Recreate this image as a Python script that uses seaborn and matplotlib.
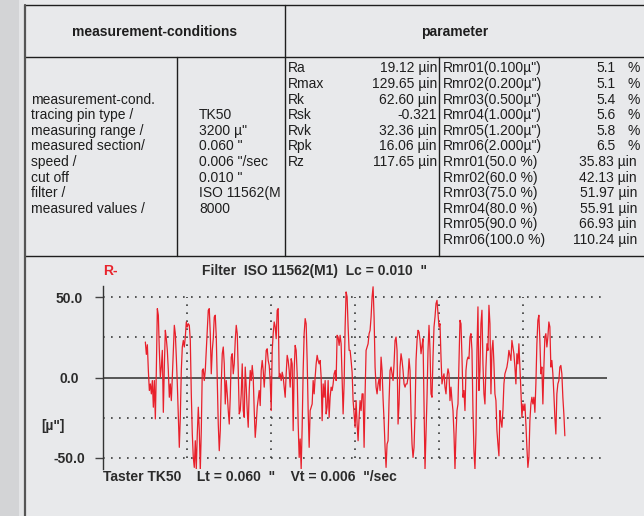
import numpy as np
import pandas as pd
import seaborn as sns
import matplotlib.pyplot as plt

sns.set_style("white")
plt.rcParams['font.family'] = ['Liberation Sans', 'DejaVu Sans']

# ---- table contents ----
header_left = "measurement-conditions"
header_right = "parameter"
cond_labels = ["measurement-cond.", "tracing pin type /", "measuring range /",
               "measured section/", "speed /", "cut off", "filter /", "measured values /"]
cond_values = ["TK50", '3200 µ"', '0.060 "', '0.006 "/sec', '0.010 "', "ISO 11562(M", "8000"]
param_names = ["Ra", "Rmax", "Rk", "Rsk", "Rvk", "Rpk", "Rz"]
param_values = ["19.12 µin", "129.65 µin", "62.60 µin", "-0.321", "32.36 µin", "16.06 µin", "117.65 µin"]
rmr_height_names = ['Rmr01(0.100µ")', 'Rmr02(0.200µ")', 'Rmr03(0.500µ")',
                    'Rmr04(1.000µ")', 'Rmr05(1.200µ")', 'Rmr06(2.000µ")']
rmr_height_pct = [5.1, 5.1, 5.4, 5.6, 5.8, 6.5]
rmr_pct_names = ["Rmr01(50.0 %)", "Rmr02(60.0 %)", "Rmr03(75.0 %)",
                 "Rmr04(80.0 %)", "Rmr05(90.0 %)", "Rmr06(100.0 %)"]
rmr_depth_uin = [35.83, 42.13, 51.97, 55.91, 66.93, 110.24]

profile = [
    22.1, 14.4, 20.4, 4.4, -8.1, -4.0, -10.2, -1.9, -18.5, -1.9, -25.8, 4.4, 42.9, 38.8, 16.9, 0.2,
    6.5, 16.9, -21.7, 6.5, 29.4, 24.2, 16.9, 4.4, -12.3, -4.0, -14.4, 0.2, 16.9, 32.5, 27.3, 12.7,
    -4.0, -24.8, -43.5, -24.8, 4.4, 19.0, 23.1, 19.0, 25.2, 34.6, 31.5, 33.5, 32.5, 23.1, -10.2, -35.2,
    -49.8, -56.0, -39.4, -57.1, -35.2, -18.5, -33.1, -58.1, -33.1, 4.4, 5.4, -1.9, 4.4, 16.9, 29.4, 41.9,
    42.9, 27.3, 2.3, 16.9, 24.2, 37.7, 38.8, 25.2, -1.9, -29.0, -45.6, -33.1, -4.0, 14.8, 19.0, 8.5,
    -16.5, -1.9, -10.2, -20.6, -29.0, -12.3, 12.7, 14.8, 2.3, 8.5, 23.1, 32.5, 27.3, 4.4, -22.7, -20.6,
    -10.2, 8.5, -20.6, -24.8, 6.5, -6.0, -20.6, -31.0, -8.1, 4.4, -1.9, 7.5, 0.2, -20.6, -37.3, -29.0,
    -18.5, -13.3, -8.1, -17.5, 4.4, 10.6, 4.4, -6.0, 4.4, 16.9, 17.9, 10.6, 7.5, -1.9, -20.6, 16.9,
    27.3, 34.6, 31.5, 24.2, 41.9, 42.9,
    0.2, 2.3, -1.9, 3.3, 0.2, -6.0, -12.3, 2.3, 13.8, 10.6, 4.4, -6.0, 11.7, 8.5, -33.1, 4.4,
    20.0, 16.9, 2.3, -29.0, -49.8, -38.3, -57.1, -31.0, 4.4, 27.3, 36.7, 33.5, 10.6, -20.6, -43.5, -20.6,
    -18.5, -16.5, -1.9, -10.2, 0.2, 8.5, 13.8, 10.6, 8.5, 10.6, 0.2, -26.9, -4.0, -12.3, -1.9, -22.7,
    -18.5, -1.9, -24.8, -12.3, -6.0, -8.1, -4.0, 2.3, 4.4, -1.9, 26.3, 25.2, 20.0, 26.3, 21.0, 0.2,
    -22.7, -4.0, 31.5, 53.3, 50.2, 31.5,
    16.9, 16.9, 10.6, 3.3, -14.4, -22.7, -31.0, -14.4, -29.0, -39.4, -24.8, -14.4, -20.6, -10.2, -10.2, -43.5,
    -10.2, 16.9, 19.0, 21.0, 27.3, 29.4, 37.7, 50.2, 56.5, 37.7, 6.5, -6.0, -10.2, -4.0, -0.8, -8.1,
    12.7, 4.4, -13.3, -26.9, -43.5, -56.0, -41.5, -39.4, -14.4, 4.4, 6.5, 2.3, -1.9, 8.5, 23.1, 25.2,
    16.9, -29.0, -16.5, 6.5, 14.8, 10.6, 4.4, -4.0, -6.0, -4.0, -4.0, 0.2, 11.7, 4.4, -22.7, -41.5,
    -49.8, -43.5, -22.7, 10.6, 23.1, 29.4,
    28.3, 23.1, 14.8, 20.0, 24.2, -14.4, -57.1, -35.2, -12.3, 16.9, 32.5, 16.9, -10.2, -12.3, 12.7, 31.5,
    37.7, 46.0, 48.1, 39.8, 31.5, 33.5, 12.7, -4.0, 0.2, 2.3, -6.0, -10.2, 0.2, 5.4, 2.3, -14.4,
    -6.0, -14.4, -20.6, -35.2, -57.1, -35.2, -20.6, -16.5, 10.6, 35.6, 33.5, 12.7, -12.3, -8.1, -20.6, 4.4,
    10.6, 12.7, 11.7, 25.2, 27.3, 16.9, -20.6, -45.6, -57.1, -35.2, 16.9, 44.0, -8.1, 4.4, 33.5, 41.9,
    8.5, -10.2, -16.5, 6.5, 21.0, 16.9,
    45.0, 33.5, -10.2, 16.9, 23.1, 8.5, -10.2, -14.4, -33.1, -41.5, -48.8, -20.6, -26.9, -31.0, -20.6, -4.0,
    2.3, 4.4, 6.5, 10.6, 16.9, 13.8, 10.6, 23.1, 19.0, 14.8, 6.5, -4.0, 14.8, 8.5, 21.0, 6.5,
    -8.1, -24.8, -16.5, -20.6, -16.5, -29.0, -43.5, -56.0, -49.8, -26.9, -16.5, -12.3, -16.5, -12.3, -21.7, -4.0,
    21.0, 35.6, 38.8, 23.1, 2.3, 6.5, -16.5, 6.5, 25.2, 27.3, 19.0, 25.2, 34.6, 31.5, 6.5, 10.6,
    2.3, -10.2, -24.8, -35.2, -10.2, -4.0, -1.9, 6.5, 7.5, 2.3, -12.3, -22.7, -36.3,
]
eval_start, eval_end = 0.005, 0.055
cutoff_lines = [0.010, 0.020, 0.030, 0.040, 0.050]
grid_levels = [-50, -25, 25, 50]
y_ticks = [-50.0, 0.0, 50.0]

df = pd.DataFrame({"x": np.linspace(eval_start, eval_end, len(profile)), "y": profile})

W, H = 644, 516
bg = "#e8e9eb"
ink = "#1e1e1e"
fig = plt.figure(figsize=(W / 100, H / 100), dpi=100, facecolor=bg)

# overlay axes in pixel units for the table frame
tab = fig.add_axes([0, 0, 1, 1])
tab.set_xlim(0, W)
tab.set_ylim(H, 0)
tab.axis("off")
tab.axvspan(0, 19, color="#d3d4d6", lw=0)
tab.axvspan(19, 24, color="#e4e5e7", lw=0)

lk = dict(color=ink, lw=1.0)
tab.plot([25, W], [5, 5], **lk)
tab.plot([25, W], [57, 57], **lk)
tab.plot([25, W], [256, 256], **lk)
tab.plot([25, 25], [5, H], color="#555555", lw=1.6)
tab.plot([177.5, 177.5], [57, 256], **lk)
tab.plot([285, 285], [5, 256], **lk)
tab.plot([439.5, 439.5], [57, 256], **lk)

fs = 10
tab.text(155, 32, header_left, ha="center", va="center", fontsize=fs, fontweight="bold", color=ink)
tab.text(455, 32, header_right, ha="center", va="center", fontsize=fs, fontweight="bold", color=ink)

row_y = [68.4 + 15.6 * r for r in range(12)]
for i, s in enumerate(cond_labels):
    tab.text(31, row_y[i + 2], s, ha="left", va="center", fontsize=fs, color=ink)
for i, s in enumerate(cond_values):
    tab.text(199, row_y[i + 3], s, ha="left", va="center", fontsize=fs, color=ink)
for i, (n, v) in enumerate(zip(param_names, param_values)):
    tab.text(288, row_y[i], n, ha="left", va="center", fontsize=fs, color=ink)
    tab.text(437, row_y[i], v, ha="right", va="center", fontsize=fs, color=ink)
for i, (n, v) in enumerate(zip(rmr_height_names, rmr_height_pct)):
    tab.text(443, row_y[i], n, ha="left", va="center", fontsize=fs, color=ink)
    tab.text(616, row_y[i], f"{v:.1f}", ha="right", va="center", fontsize=fs, color=ink)
    tab.text(628, row_y[i], "%", ha="left", va="center", fontsize=fs, color=ink)
for i, (n, v) in enumerate(zip(rmr_pct_names, rmr_depth_uin)):
    tab.text(443, row_y[i + 6], n, ha="left", va="center", fontsize=fs, color=ink)
    tab.text(637, row_y[i + 6], f"{v:.2f} µin", ha="right", va="center", fontsize=fs, color=ink)

# plot texts
lab = "#2b2b2b"
tab.text(103, 271, "R-", ha="left", va="center", fontsize=fs, fontweight="bold", color="#e8232c")
tab.text(202, 271, 'Filter  ISO 11562(M1)  Lc = 0.010  "', ha="left", va="center",
         fontsize=fs, fontweight="bold", color=lab)
tab.text(53, 426, '[µ"]', ha="center", va="center", fontsize=fs, fontweight="bold", color=lab)
tab.text(103, 477, 'Taster TK50    Lt = 0.060  "    Vt = 0.006  "/sec', ha="left", va="center",
         fontsize=fs, fontweight="bold", color=lab)

# ---- profile axes ----
x0_px, x1_px, ytop_px, ybot_px = 103.4, 606.8, 286, 469
ax = fig.add_axes([x0_px / W, 1 - ybot_px / H, (x1_px - x0_px) / W, (ybot_px - ytop_px) / H])
ax.set_facecolor("none")
ax.set_xlim(0, 0.060)
ax.set_ylim(-57, 57)

dots = (0, (1, 3.8))
ax.hlines(grid_levels, 0, 0.060, colors="#3a3a3a", linestyles=[dots], lw=1.2)
ax.vlines(cutoff_lines, -50, 50, colors="#3a3a3a", linestyles=[dots], lw=1.2)
ax.axhline(0, color="#4a4a4a", lw=1.3)

sns.lineplot(data=df, x="x", y="y", ax=ax, color="#e8202b", lw=0.9, estimator=None, sort=False)

for sp in ["top", "right", "bottom"]:
    ax.spines[sp].set_visible(False)
ax.spines["left"].set_color("#333333")
ax.spines["left"].set_linewidth(1.0)
ax.set_xticks([])
ax.set_yticks(y_ticks)
ax.set_yticklabels([f"{t:.1f}" for t in y_ticks])
ax.tick_params(axis="y", length=5.5, width=1.0, color="#444444", pad=19, labelsize=fs,
               labelcolor=lab, left=True)
for t in ax.get_yticklabels():
    t.set_horizontalalignment("center")
    t.set_fontweight("bold")
ax.set_xlabel("")
ax.set_ylabel("")

fig.savefig("out.png", dpi=100, facecolor=bg)
